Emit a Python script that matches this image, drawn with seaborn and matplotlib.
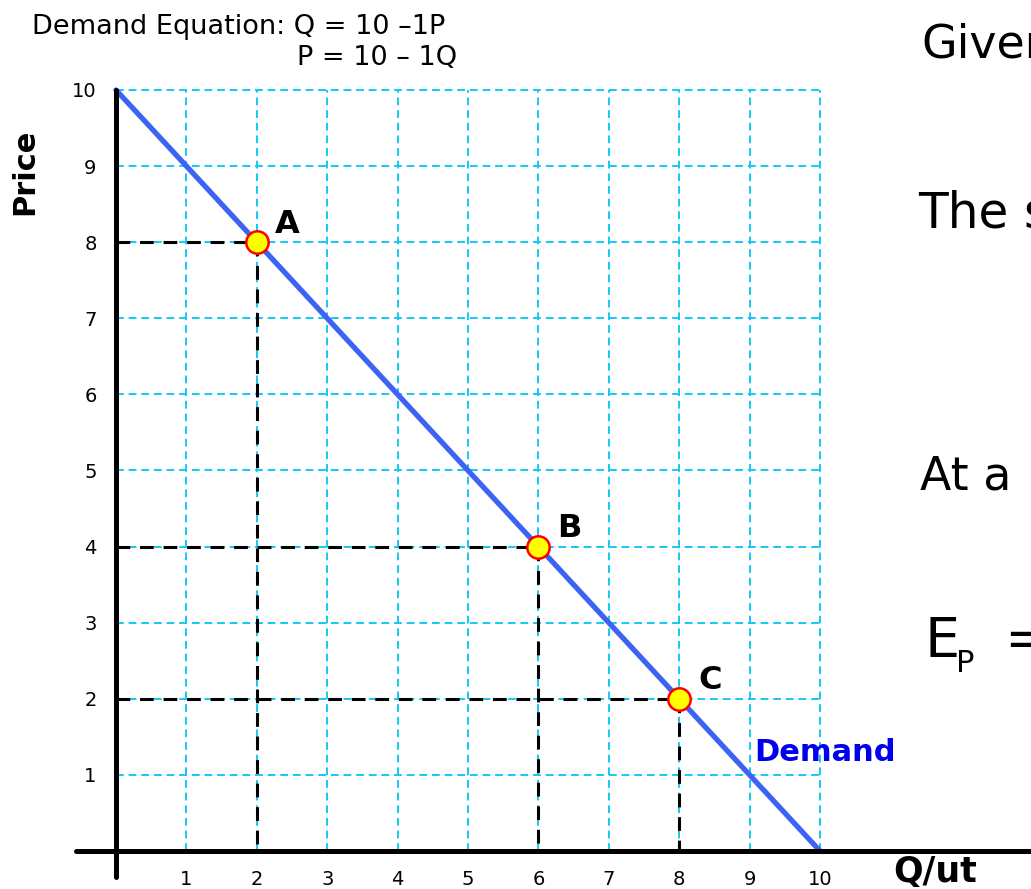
import numpy as np
import pandas as pd
import matplotlib.pyplot as plt
import seaborn as sns

# demand curve P = 10 - 1Q
quantity = [0, 10]
price = [10, 0]

# marked points on the curve
point_names = ["A", "B", "C"]
point_q = [2, 6, 8]
point_p = [8, 4, 2]

tick_values = [1, 2, 3, 4, 5, 6, 7, 8, 9, 10]

sns.set_style("white")
plt.rcParams['font.family'] = ['DejaVu Sans']
plt.rcParams.update({"text.color": "black", "xtick.color": "black",
                     "ytick.color": "black", "axes.labelcolor": "black"})

W, H = 1031, 889
fig = plt.figure(figsize=(W / 100, H / 100), dpi=100)
ax = fig.add_axes([116 / W, (H - 851) / H, 704 / W, 761 / H])

demand = pd.DataFrame({"Q": quantity, "P": price})
sns.lineplot(data=demand, x="Q", y="P", color="#3d63f2", lw=3.8, ax=ax,
             zorder=4, clip_on=False)

# dashed guides from each point to the axes
for q, p in zip(point_q, point_p):
    ax.plot([0, q], [p, p], color="black", ls=(0, (4.5, 3.2)), lw=2.2, zorder=3)
    ax.plot([q, q], [p, 0], color="black", ls=(0, (4.5, 3.2)), lw=2.2, zorder=3)

pts = pd.DataFrame({"Q": point_q, "P": point_p, "name": point_names})
sns.scatterplot(data=pts, x="Q", y="P", s=260, color="#ffff00",
                edgecolor="#ff0000", linewidth=1.8, zorder=5, ax=ax)
for q, p, name in zip(point_q, point_p, point_names):
    ax.annotate(name, (q, p), xytext=(22, 13), textcoords="offset points",
                ha="center", va="center", fontsize=23, fontweight="bold")

ax.text(9.06, 1.30, "Demand", color="#0000ee", fontsize=22, fontweight="bold",
        ha="left", va="center", clip_on=False)
ax.text(11.04, -0.28, "Q/ut", fontsize=25, fontweight="bold",
        ha="left", va="center", clip_on=False)

ax.set_xlim(0, 10)
ax.set_ylim(0, 10)
ax.set_xticks(tick_values)
ax.set_yticks(tick_values)
ax.set_xlabel("")
ax.set_ylabel("")
ax.grid(True, color="#14c8f5", ls=(0, (4, 2.5)), lw=1.4)
for gl in ax.get_xgridlines() + ax.get_ygridlines():
    gl.set_clip_on(False)
ax.tick_params(length=0, labelsize=14)
ax.tick_params(axis="x", pad=14)
ax.tick_params(axis="y", pad=14)
for s in ax.spines.values():
    s.set_visible(False)

# thick axes that run past the plotting area
ax.axhline(0, xmin=-0.057, xmax=1.3, color="black", lw=3.6, clip_on=False, zorder=6)
ax.axvline(0, ymin=-0.034, ymax=1, color="black", lw=3.6, clip_on=False, zorder=6)

fig.text(25 / W, 1 - 172 / H, "Price", rotation=90, fontsize=22,
         fontweight="bold", ha="center", va="center")

fig.text(32 / W, 1 - 34 / H, "Demand Equation: Q = 10 \u20131P", fontsize=19.5,
         ha="left", va="baseline")
fig.text(297 / W, 1 - 65 / H, "P = 10 \u2013 1Q", fontsize=19.5,
         ha="left", va="baseline")

# side text, cut off at the right edge as in the slide
fig.text(921 / W, 1 - 57 / H, "Given", fontsize=33, ha="left", va="baseline")
fig.text(918 / W, 1 - 228 / H, "The slope", fontsize=35, ha="left", va="baseline")
fig.text(920 / W, 1 - 490 / H, "At a", fontsize=33, ha="left", va="baseline")
fig.text(924 / W, 1 - 657 / H, "E", fontsize=40, ha="left", va="baseline")
fig.text(956 / W, 1 - 672 / H, "P", fontsize=22, ha="left", va="baseline")
fig.text(1004 / W, 1 - 657 / H, "=", fontsize=40, ha="left", va="baseline")

fig.savefig("out.png", dpi=100)
